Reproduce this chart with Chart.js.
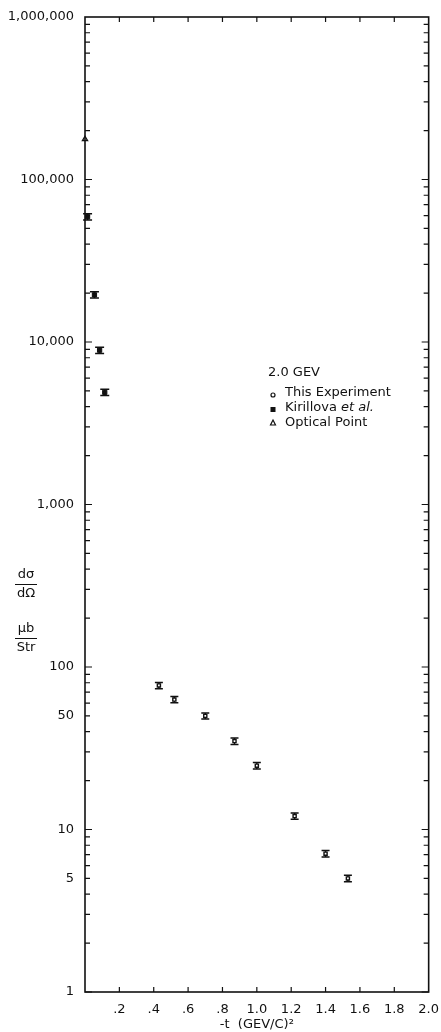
<!DOCTYPE html>
<html>
<head>
<meta charset="utf-8">
<script src="https://cdn.jsdelivr.net/npm/chart.js@4.4.0/dist/chart.umd.min.js"></script>
<style>
  html, body { margin: 0; padding: 0; background: #fff; }
  #wrap { width: 441px; height: 1032px; }
</style>
</head>
<body>
<div id="wrap"><canvas id="sigma"></canvas></div>
<script>
// 2.0 GeV differential cross section
const tExp = [0.43, 0.52, 0.70, 0.87, 1.00, 1.22, 1.40, 1.53];
const sigExp = [77, 63, 50, 35, 24.7, 12.1, 7.1, 5.0];
const errExp = [3.4, 2.8, 2.2, 1.6, 1.1, 0.55, 0.32, 0.23];

const tKir = [0.015, 0.055, 0.085, 0.115];
const sigKir = [59000, 19500, 8900, 4900];
const errKir = [2600, 860, 390, 215];

const tOpt = [0];
const sigOpt = [177000];

const xTicks = [0, 0.2, 0.4, 0.6, 0.8, 1.0, 1.2, 1.4, 1.6, 1.8, 2.0];
const yTicks = [1, 5, 10, 50, 100, 1000, 10000, 100000, 1000000];

const FONT = '"DejaVu Sans", sans-serif';

function pts(xs, ys) {
    return xs.map((x, i) => ({x: x, y: ys[i]}));
}

// error bars go under the markers
const errBars = {
    id: 'errBars',
    beforeDatasetsDraw(chart) {
        const ctx = chart.ctx;
        const xs = chart.scales.x, ys = chart.scales.y;
        ctx.save();
        ctx.strokeStyle = '#111';
        ctx.lineWidth = 1.5;
        const bars = [[tExp, sigExp, errExp, 4], [tKir, sigKir, errKir, 4.5]];
        bars.forEach(([xv, yv, ev, cap]) => {
            xv.forEach((x, i) => {
                const px = xs.getPixelForValue(x);
                const lo = ys.getPixelForValue(yv[i] - ev[i]);
                const hi = ys.getPixelForValue(yv[i] + ev[i]);
                ctx.beginPath();
                ctx.moveTo(px, lo); ctx.lineTo(px, hi);
                ctx.moveTo(px - cap, lo); ctx.lineTo(px + cap, lo);
                ctx.moveTo(px - cap, hi); ctx.lineTo(px + cap, hi);
                ctx.stroke();
            });
        });
        ctx.restore();
    }
};

// frame, inward tick marks, axis title, legend
const extras = {
    id: 'extras',
    afterDatasetsDraw(chart) {
        const ctx = chart.ctx;
        const xs = chart.scales.x, ys = chart.scales.y;
        const a = chart.chartArea;
        ctx.save();
        ctx.strokeStyle = '#111';
        ctx.fillStyle = '#111';

        // frame
        ctx.lineWidth = 1.6;
        ctx.strokeRect(a.left, a.top, a.right - a.left, a.bottom - a.top);

        // log ticks on left and right
        ctx.lineWidth = 1.2;
        for (let d = 1; d < 1000000; d *= 10) {
            for (let m = 1; m <= 9; m++) {
                const py = ys.getPixelForValue(m * d);
                const len = m === 1 ? 7 : 5;
                ctx.beginPath();
                ctx.moveTo(a.left, py); ctx.lineTo(a.left + len, py);
                ctx.moveTo(a.right, py); ctx.lineTo(a.right - len, py);
                ctx.stroke();
            }
        }
        // x ticks top and bottom
        xTicks.slice(1, -1).forEach(v => {
            const px = xs.getPixelForValue(v);
            ctx.beginPath();
            ctx.moveTo(px, a.top); ctx.lineTo(px, a.top + 5);
            ctx.moveTo(px, a.bottom); ctx.lineTo(px, a.bottom - 5);
            ctx.stroke();
        });

        // y axis title as two fractions
        ctx.font = '13px ' + FONT;
        ctx.textAlign = 'center';
        ctx.textBaseline = 'middle';
        const cx = 26;
        ctx.fillText('d\u03C3', cx, 575);
        ctx.fillText('d\u03A9', cx, 594);
        ctx.fillText('\u03BCb', cx, 629);
        ctx.fillText('Str', cx, 648);
        ctx.lineWidth = 1;
        ctx.beginPath();
        ctx.moveTo(cx - 11, 584.5); ctx.lineTo(cx + 11, 584.5);
        ctx.moveTo(cx - 11, 638.5); ctx.lineTo(cx + 11, 638.5);
        ctx.stroke();

        // legend
        ctx.textAlign = 'left';
        ctx.font = '13px ' + FONT;
        ctx.fillText('2.0 GEV', 268, 373);
        const lx = 273, tx = 285;
        ctx.fillText('This Experiment', tx, 393);
        ctx.fillText('Kirillova', tx, 408);
        const kw = ctx.measureText('Kirillova ').width;
        ctx.font = 'italic 13px ' + FONT;
        ctx.fillText('et al.', tx + kw, 408);
        ctx.font = '13px ' + FONT;
        ctx.fillText('Optical Point', tx, 423);
        ctx.lineWidth = 1.2;
        ctx.beginPath(); ctx.arc(lx, 395, 2, 0, Math.PI * 2); ctx.stroke();
        ctx.fillRect(lx - 2.5, 407, 5, 5);
        ctx.beginPath();
        ctx.moveTo(lx, 420); ctx.lineTo(lx + 2.5, 425); ctx.lineTo(lx - 2.5, 425); ctx.closePath();
        ctx.stroke();

        ctx.restore();
    }
};

new Chart(document.getElementById('sigma'), {
    type: 'scatter',
    data: {
        datasets: [
            {
                label: 'This Experiment',
                data: pts(tExp, sigExp),
                pointStyle: 'rect',
                pointRadius: 2.2,
                backgroundColor: '#fff',
                borderColor: '#111',
                borderWidth: 1.4
            },
            {
                label: 'Kirillova et al.',
                data: pts(tKir, sigKir),
                pointStyle: 'rect',
                pointRadius: 3,
                backgroundColor: '#111',
                borderColor: '#111',
                borderWidth: 1
            },
            {
                label: 'Optical Point',
                data: pts(tOpt, sigOpt),
                pointStyle: 'triangle',
                pointRadius: 3,
                backgroundColor: '#fff',
                borderColor: '#111',
                borderWidth: 1.3
            }
        ]
    },
    options: {
        responsive: true,
        maintainAspectRatio: false,
        animation: false,
        clip: false,
        layout: { padding: { top: 17, right: 12, left: 0, bottom: 0 } },
        plugins: { legend: { display: false }, tooltip: { enabled: false } },
        scales: {
            x: {
                type: 'linear',
                min: 0,
                max: 2,
                afterBuildTicks: s => { s.ticks = xTicks.map(v => ({value: v})); },
                afterFit: s => { s.height = 40; },
                grid: { display: false },
                border: { display: false },
                ticks: {
                    color: '#111',
                    padding: 2,
                    font: { family: FONT, size: 13 },
                    maxRotation: 0,
                    callback: v => v === 0 ? '' : v.toFixed(1).replace(/^0/, '')
                },
                title: {
                    display: true,
                    text: '-t  (GEV/C)\u00B2',
                    color: '#111',
                    font: { family: FONT, size: 13 },
                    padding: { top: 2, bottom: 0 }
                }
            },
            y: {
                type: 'logarithmic',
                min: 1,
                max: 1000000,
                afterBuildTicks: s => { s.ticks = yTicks.map(v => ({value: v})); },
                afterFit: s => { s.width = 85; },
                grid: { display: false },
                border: { display: false },
                ticks: {
                    color: '#111',
                    padding: 3,
                    font: { family: FONT, size: 13 },
                    callback: v => v.toLocaleString('en-US')
                }
            }
        }
    },
    plugins: [errBars, extras]
});
</script>
</body>
</html>
